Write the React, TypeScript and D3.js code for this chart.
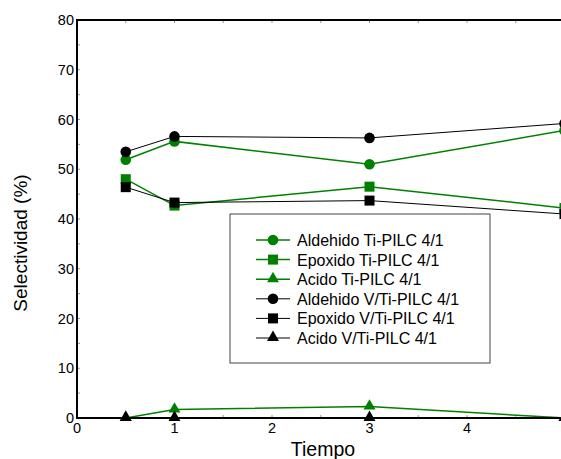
import React from 'react'
import * as d3 from 'd3'

// tiempo values
const tiempo = [0.5, 1, 3, 5]

// Ti-PILC 4/1
const aldehidoTi = [51.9, 55.6, 51.0, 57.8]
const epoxidoTi = [48.0, 42.7, 46.5, 42.2]
const acidoTi = [0, 1.7, 2.3, 0]

// V/Ti-PILC 4/1
const aldehidoV = [53.5, 56.6, 56.3, 59.2]
const epoxidoV = [46.4, 43.3, 43.7, 41.0]
const acidoV = [0, 0, 0, 0]

const xTicks = [0, 1, 2, 3, 4, 5]
const yTicks = [0, 10, 20, 30, 40, 50, 60, 70, 80]

const seriesNames = [
    'Aldehido Ti-PILC 4/1',
    'Epoxido Ti-PILC 4/1',
    'Acido Ti-PILC 4/1',
    'Aldehido V/Ti-PILC 4/1',
    'Epoxido V/Ti-PILC 4/1',
    'Acido V/Ti-PILC 4/1',
]

const GREEN = '#008000'
const font = 'Arial, "Liberation Sans", sans-serif'

const Marker = ({ shape, x, y, color }: { shape: string, x: number, y: number, color: string }) => {
    if (shape === 'circle') return <circle cx={x} cy={y} r={5.3} fill={color} />
    if (shape === 'square') return <rect x={x - 5} y={y - 5} width={10} height={10} fill={color} />
    const tri = d3.symbol().type(d3.symbolTriangle).size(62)()
    return <path d={tri as string} transform={`translate(${x},${y - 0.5})`} fill={color} />
}

const App = () => {
    const margin = { top: 20, left: 77 }
    const width = 487.5
    const height = 398

    const xScale = d3.scaleLinear().domain([0, 5]).range([margin.left, margin.left + width])
    const yScale = d3.scaleLinear().domain([0, 80]).range([margin.top + height, margin.top])

    const line = d3.line<number>()
        .x((d, i) => xScale(tiempo[i]))
        .y(d => yScale(d))

    const series = [
        { name: seriesNames[0], values: aldehidoTi, color: GREEN, shape: 'circle', w: 1.5 },
        { name: seriesNames[1], values: epoxidoTi, color: GREEN, shape: 'square', w: 1.5 },
        { name: seriesNames[2], values: acidoTi, color: GREEN, shape: 'triangle', w: 1.5 },
        { name: seriesNames[3], values: aldehidoV, color: '#000', shape: 'circle', w: 1 },
        { name: seriesNames[4], values: epoxidoV, color: '#000', shape: 'square', w: 1 },
        { name: seriesNames[5], values: acidoV, color: '#000', shape: 'triangle', w: 1 },
    ]

    const xMinor = d3.range(0, 5.01, 0.5)
    const yMinor = d3.range(0, 80.1, 5)

    // legend
    const lg = { x: 230, y: 214, w: 260, h: 149, row0: 240, step: 19.6 }

    return (
        <svg width={561} height={459} style={{ position: 'absolute', left: 0, top: 0, background: '#fff' }}
            fontFamily={font}>
            {/* ticks */}
            {xMinor.map(v => (
                <g key={'xt' + v} stroke="#999" strokeWidth={1}>
                    <line x1={xScale(v)} x2={xScale(v)} y1={yScale(0)} y2={yScale(0) - 3} />
                    <line x1={xScale(v)} x2={xScale(v)} y1={yScale(80)} y2={yScale(80) + 3} />
                </g>
            ))}
            {yMinor.map(v => (
                <line key={'yt' + v} x1={xScale(0)} x2={xScale(0) + 3} y1={yScale(v)} y2={yScale(v)}
                    stroke="#999" strokeWidth={1} />
            ))}

            {/* series lines */}
            {series.map(s => (
                <path key={'l' + s.name} d={line(s.values) as string} fill="none" stroke={s.color} strokeWidth={s.w} />
            ))}
            {/* axes */}
            <line x1={xScale(0)} x2={561} y1={yScale(0)} y2={yScale(0)} stroke="#000" strokeWidth={2} />
            <line x1={xScale(0)} x2={561} y1={yScale(80)} y2={yScale(80)} stroke="#000" strokeWidth={2} />
            <line x1={xScale(0)} x2={xScale(0)} y1={yScale(0) + 1} y2={yScale(80) - 1} stroke="#000" strokeWidth={2} />

            {/* markers */}
            {series.map(s => s.values.map((v, i) => (
                <Marker key={s.name + i} shape={s.shape} x={xScale(tiempo[i])} y={yScale(v)} color={s.color} />
            )))}

            {/* tick labels */}
            {yTicks.map(v => (
                <text key={'yl' + v} x={xScale(0) - 3} y={yScale(v) + 5} textAnchor="end" fontSize={14.5}>{v}</text>
            ))}
            {xTicks.map(v => (
                <text key={'xl' + v} x={xScale(v)} y={yScale(0) + 15} textAnchor="middle" fontSize={14.5}>{v}</text>
            ))}

            {/* axis titles */}
            <text x={323} y={456} textAnchor="middle" fontSize={19.5}>Tiempo</text>
            <text transform="translate(27,243) rotate(-90)" textAnchor="middle" fontSize={19}>Selectividad (%)</text>

            {/* legend */}
            <rect x={lg.x} y={lg.y} width={lg.w} height={lg.h} fill="#fff" stroke="#444" strokeWidth={1} />
            {series.map((s, i) => {
                const ry = lg.row0 + i * lg.step
                return (
                    <g key={'lg' + s.name}>
                        <line x1={256} x2={290} y1={ry} y2={ry} stroke={s.color} strokeWidth={s.w} />
                        <Marker shape={s.shape} x={273} y={ry} color={s.color} />
                        <text x={297} y={ry + 6} fontSize={16}>{s.name}</text>
                    </g>
                )
            })}
        </svg>
    )
}
export default App
